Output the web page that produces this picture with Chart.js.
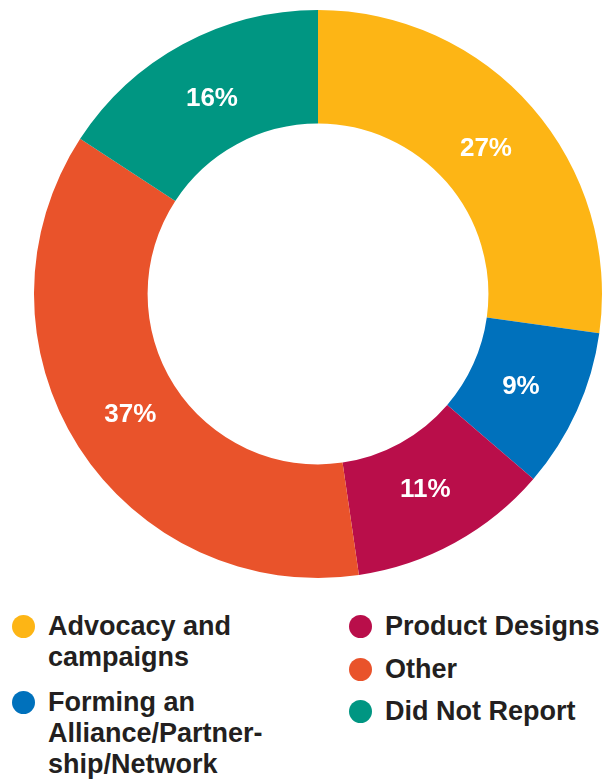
<!DOCTYPE html>
<html>
<head>
<meta charset="utf-8">
<script src="https://cdn.jsdelivr.net/npm/chart.js@4/dist/chart.umd.min.js"></script>
<style>
  body { margin: 0; background: #fff; font-family: 'Liberation Sans', Arial, sans-serif; }
  #wrap { position: relative; width: 608px; height: 780px; overflow: hidden; }
  #chart { position: absolute; left: 0; top: 0; }
  .legend { position: absolute; top: 611px; color: #231F20; font-weight: bold; font-size: 27px; line-height: 31px; }
  .legend .item { position: relative; padding-left: 36px; white-space: nowrap; }
  .legend .dot { position: absolute; left: 0; top: 4px; width: 23px; height: 23px; border-radius: 50%; }
  #legLeft { left: 12px; }
  #legLeft .item { margin-bottom: 14px; }
  #legRight { left: 349px; }
  #legRight .item { margin-bottom: 11.5px; }
</style>
</head>
<body>
<div id="wrap">
  <canvas id="chart" width="608" height="600"></canvas>
  <div class="legend" id="legLeft"></div>
  <div class="legend" id="legRight"></div>
</div>
<script>
const labels = [
    ['Advocacy and', 'campaigns'],
    ['Forming an', 'Alliance/Partner-', 'ship/Network'],
    ['Product Designs'],
    ['Other'],
    ['Did Not Report']
];
// slice sizes as measured from the ring, and the percentages printed on it
const shares = [27.2, 9.1, 11.4, 36.5, 15.8];
const pctLabels = ['27%', '9%', '11%', '37%', '16%'];
const colors = ['#FDB515', '#0071BC', '#B90E4A', '#E9532B', '#009682'];
const legendColumns = [[0, 1], [2, 3, 4]];

// percent labels drawn in the middle of each ring segment
const sliceLabels = {
    id: 'sliceLabels',
    afterDatasetsDraw(chart) {
        const c = chart.ctx;
        const meta = chart.getDatasetMeta(0);
        c.save();
        c.fillStyle = '#ffffff';
        c.font = 'bold 26px "Liberation Sans", Arial, sans-serif';
        c.textAlign = 'center';
        c.textBaseline = 'middle';
        meta.data.forEach(function (arc, i) {
            const a = (arc.startAngle + arc.endAngle) / 2;
            const r = arc.innerRadius + (arc.outerRadius - arc.innerRadius) * 0.46;
            c.fillText(pctLabels[i], arc.x + r * Math.cos(a), arc.y + r * Math.sin(a) + 1);
        });
        c.restore();
    }
};

const ctx = document.getElementById('chart').getContext('2d');
const myChart = new Chart(ctx, {
    type: 'doughnut',
    data: {
        labels: labels,
        datasets: [{
            data: shares,
            backgroundColor: colors,
            borderWidth: 0
        }]
    },
    options: {
        responsive: false,
        animation: false,
        cutout: '60%',
        layout: {
            padding: { left: 34, top: 10, right: 6, bottom: 22 }
        },
        plugins: {
            legend: { display: false },
            tooltip: { enabled: false }
        }
    },
    plugins: [sliceLabels]
});

// html legend in two columns
const cols = [document.getElementById('legLeft'), document.getElementById('legRight')];
legendColumns.forEach(function (idxs, c) {
    idxs.forEach(function (i) {
        const item = document.createElement('div');
        item.className = 'item';
        item.innerHTML = '<span class="dot" style="background:' + colors[i] + '"></span>' + labels[i].join('<br>');
        cols[c].appendChild(item);
    });
});
</script>
</body>
</html>
